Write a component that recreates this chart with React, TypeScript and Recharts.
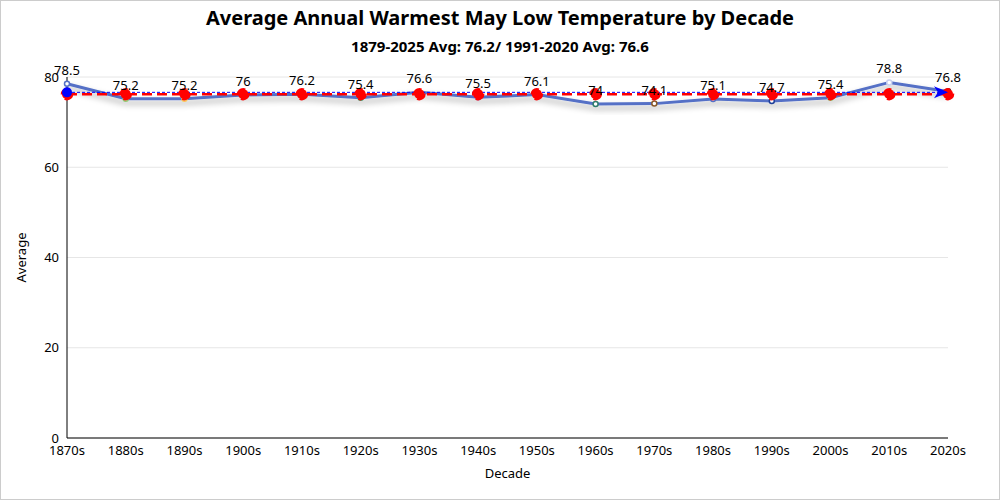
import { LineChart, Line, XAxis, YAxis, CartesianGrid, Label, LabelList } from "recharts";

const decades = ["1870s", "1880s", "1890s", "1900s", "1910s", "1920s", "1930s", "1940s", "1950s", "1960s", "1970s", "1980s", "1990s", "2000s", "2010s", "2020s"];
const averages = [78.5, 75.2, 75.2, 76, 76.2, 75.4, 76.6, 75.5, 76.1, 74, 74.1, 75.1, 74.7, 75.4, 78.8, 76.8];
const pointColors = ["#5470c6", "#91cc75", "#fac858", "#ee6666", "#73c0de", "#3ba272", "#fc8452", "#9a60b4", "#ea7ccc", "#2f7d6d", "#8a5a2b", "#5470c6", "#1f3f99", "#91cc75", "#c8d0f0", "#000000"];
const longAvg = 76.2;
const recentAvg = 76.6;
const yTicks = [0, 20, 40, 60, 80];

const data = decades.map((d, i) => ({ decade: d, avg: averages[i], longAvg, recentAvg }));

const font = "'Segoe UI', 'Noto Sans', sans-serif";

const MainDot = (props: any) => {
  const { cx, cy, index } = props;
  return <circle key={index} cx={cx} cy={cy} r={2.5} fill="#fff" stroke={pointColors[index]} strokeWidth={1.5} />;
};

const RecentDot = (props: any) => {
  const { cx, cy, index } = props;
  if (index === 0) return <circle key={index} cx={cx} cy={cy} r={5} fill="#0000ff" />;
  if (index === decades.length - 1)
    return <path key={index} d={`M${cx},${cy} L${cx - 14},${cy - 6} L${cx - 10},${cy} L${cx - 14},${cy + 6} Z`} fill="#0000ff" />;
  return <g key={index} />;
};

export default function App() {
  return (
    <div style={{ position: "absolute", left: 0, top: 0, width: 1000, height: 500, border: "1px solid #ccc", boxSizing: "border-box", background: "#fff", fontFamily: font }}>
      <div style={{ position: "absolute", top: 3, width: "100%", textAlign: "center", fontSize: 20, fontWeight: 700 }}>
        Average Annual Warmest May Low Temperature by Decade
      </div>
      <div style={{ position: "absolute", top: 35, width: "100%", textAlign: "center", fontSize: 15, fontWeight: 700 }}>
        1879-2025 Avg: 76.2/ 1991-2020 Avg: 76.6
      </div>
      <svg width={0} height={0} style={{ position: "absolute" }}>
        <defs>
          <filter id="shadow" x="-5%" y="-50%" width="110%" height="200%">
            <feDropShadow dx={0} dy={4} stdDeviation={3} floodColor="#000" floodOpacity={0.35} />
          </filter>
        </defs>
      </svg>
      <LineChart width={998} height={498} data={data} margin={{ top: 76, right: 51, bottom: 0, left: 0 }} style={{ position: "absolute", left: 0, top: 0 }}>
        <CartesianGrid horizontal vertical={false} stroke="#e6e6e6" />
        <XAxis dataKey="decade" scale="point" padding={{ left: 0, right: 0 }} axisLine={{ stroke: "#000" }} tickLine={false} tick={{ fill: "#000", fontSize: 13, fontFamily: font }} height={61} interval={0}>
          <Label value="Decade" position="insideBottom" offset={21} fill="#000" fontSize={13} fontFamily={font} />
        </XAxis>
        <YAxis domain={[0, 80]} ticks={yTicks} width={66} axisLine={{ stroke: "#000" }} tickLine={false} tick={{ fill: "#000", fontSize: 13, fontFamily: font }}>
          <Label value="Average" angle={-90} position="insideLeft" offset={20} fill="#000" fontSize={13} fontFamily={font} style={{ textAnchor: "middle" }} />
        </YAxis>
        <Line dataKey="avg" stroke="#5470c6" strokeWidth={3} dot={<MainDot />} activeDot={false} isAnimationActive={false} style={{ filter: "url(#shadow)" }} />
        <Line dataKey="longAvg" stroke="#ff0000" strokeWidth={2.5} strokeDasharray="10 5" dot={{ r: 5, fill: "#ff0000", stroke: "#ff0000" }} activeDot={false} isAnimationActive={false} />
        <Line dataKey="recentAvg" stroke="#0000ff" strokeWidth={1} strokeDasharray="3 2" dot={<RecentDot />} activeDot={false} isAnimationActive={false} />
        <Line dataKey="avg" stroke="none" dot={false} activeDot={false} isAnimationActive={false}>
          <LabelList dataKey="avg" position="top" offset={9} fill="#000" fontSize={13} fontFamily={font} />
        </Line>
      </LineChart>
    </div>
  );
}
